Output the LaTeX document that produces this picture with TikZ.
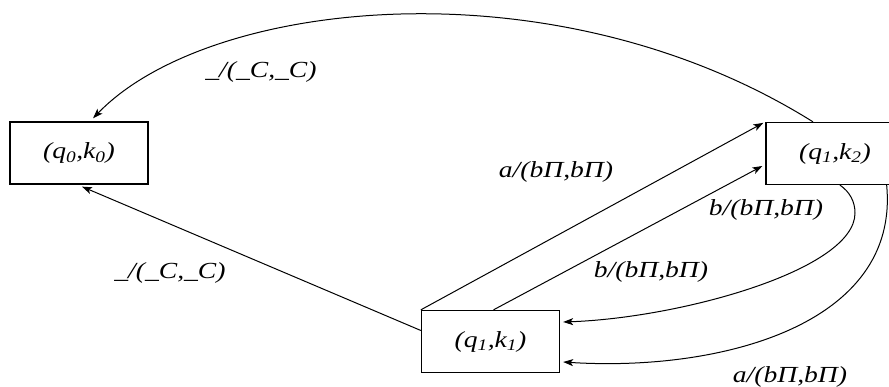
\documentclass[tikz,border=0pt]{standalone}
\usepackage{fontspec}
\setmainfont{Liberation Serif}
\newfontfamily\lblfont[FakeStretch=1.2]{Liberation Serif}
\usetikzlibrary{arrows.meta}
\begin{document}
\begin{tikzpicture}[x=1pt,y=-1pt,
  state/.style={draw, line width=1.3pt, minimum width=138pt, minimum height=62pt, inner sep=0pt,
    font=\lblfont\fontsize{23}{26}\selectfont\itshape},
  lbl/.style={font=\lblfont\fontsize{23}{26}\selectfont\itshape, inner sep=0pt},
  conn/.style={line width=1pt, -{Stealth[length=10pt,width=7pt,inset=2.5pt]}}]
\useasboundingbox (0,0) rectangle (889,387);
\node[state] (q0k0) at (79,153) {(q\textsubscript{0},k\textsubscript{0})};
\node[state] (q1k2) at (835,153.5) {(q\textsubscript{1},k\textsubscript{2})};
\node[state] (q1k1) at (490.5,341.5) {(q\textsubscript{1},k\textsubscript{1})};
% top curve
\draw[conn] ([xshift=-22pt]q1k2.north) .. controls (556,-39) and (209,-2) .. ([shift={(14,-3)}]q0k0.north);
\node[lbl] (l1) at (261,72) {\_/(\_C,\_C)};
% q1k1 -> q0k0
\draw[conn] ([shift={(0,-11)}]q1k1.west) -- ([shift={(3,2)}]q0k0.south);
\node[lbl] (l2) at (170,273) {\_/(\_C,\_C)};
% q1k1 -> q1k2 straight
\draw[conn] (q1k1.north west) -- ([shift={(-2,1)}]q1k2.north west);
\node[lbl] (l3) at (556,172) {a/(bП,bП)};
\draw[conn] ([xshift=3pt]q1k1.north) -- ([shift={(-3,12.5)}]q1k2.west);
\node[lbl] (l4) at (766,210) {b/(bП,bП)};
% q1k2 -> q1k1 curves
\draw[conn] ([xshift=5pt]q1k2.south) .. controls (850,192) and (855,202) .. (855,213)
  .. controls (855,270) and (680,318) .. ([shift={(3,-19.5)}]q1k1.east);
\node[lbl] (l5) at (651,272) {b/(bП,bП)};
\draw[conn] ([shift={(-18,0)}]q1k2.south east) .. controls (900,325) and (720,372) .. ([shift={(3,20.5)}]q1k1.east);
\node[lbl] (l6) at (790,377) {a/(bП,bП)};
\end{tikzpicture}
\end{document}
